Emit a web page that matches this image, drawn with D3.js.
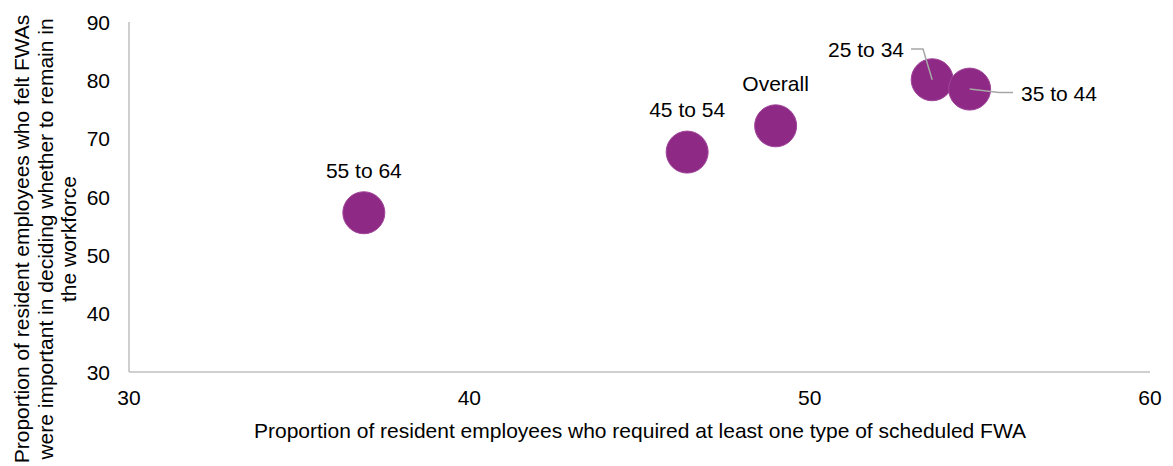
<!DOCTYPE html>
<html><head><meta charset="utf-8">
<script src="https://cdn.jsdelivr.net/npm/d3@7"></script>
<style>body{margin:0;background:#fff}svg{display:block}text{font-family:"Liberation Sans",Arial,sans-serif;fill:#000}</style>
</head><body><svg id="c" width="1173" height="466"></svg>
<script>
const labels = ["55 to 64","45 to 54","Overall","25 to 34","35 to 44"];
const xValues = [36.9, 46.4, 49.0, 53.6, 54.7];
const yValues = [57.3, 67.7, 72.2, 80.1, 78.5];
const xTicks = [30,40,50,60];
const yTicks = [30,40,50,60,70,80,90];
const xTitle = "Proportion of resident employees who required at least one type of scheduled FWA";
const yTitleLines = ["Proportion of resident employees who felt FWAs","were important in deciding whether to remain in","the workforce"];

const FS = 21;
const svg = d3.select("#c");
const x = d3.scaleLinear().domain([30,60]).range([129,1150]);
const y = d3.scaleLinear().domain([30,90]).range([372,22]);
const axisColor = "#bfbfbf";

svg.append("line").attr("x1",x(30)).attr("x2",x(60)).attr("y1",y(30)).attr("y2",y(30)).attr("stroke",axisColor).attr("stroke-width",1.5);
svg.append("line").attr("x1",x(30)).attr("x2",x(30)).attr("y1",y(30)).attr("y2",y(90)).attr("stroke",axisColor).attr("stroke-width",1.5);

svg.selectAll(".xt").data(xTicks).enter().append("text")
  .attr("x",d=>x(d)).attr("y",y(30)+32.5).attr("text-anchor","middle").attr("font-size",FS).text(d=>d);
svg.selectAll(".yt").data(yTicks).enter().append("text")
  .attr("x",110).attr("y",d=>y(d)+7.5).attr("text-anchor","end").attr("font-size",FS).text(d=>d);

svg.append("text").attr("x",640).attr("y",438).attr("text-anchor","middle").attr("font-size",FS).text(xTitle);
const yt = svg.append("g").attr("transform","translate(0,239) rotate(-90)");
yTitleLines.forEach((l,i)=>{
  yt.append("text").attr("x",0).attr("y",29+i*23.5).attr("text-anchor","middle").attr("font-size",FS).text(l);
});

const data = labels.map((l,i)=>({l, x:xValues[i], y:yValues[i]}));

const leaders = {
  "25 to 34": d=>[[911,49],[923,49],[x(d.x),y(d.y)]],
  "35 to 44": d=>[[x(d.x),y(d.y)],[999,92.5],[1013,92.5]]
};

svg.selectAll("circle").data(data).enter().append("circle")
  .attr("cx",d=>x(d.x)).attr("cy",d=>y(d.y)).attr("r",21)
  .attr("fill","#8E2A85").attr("stroke","#a0449a").attr("stroke-width",1);

data.forEach(d=>{
  if(leaders[d.l]){
    svg.append("path").attr("d",d3.line()(leaders[d.l](d))).attr("fill","none").attr("stroke","#a6a6a6").attr("stroke-width",1.5);
  }
});

data.forEach(d=>{
  const t = svg.append("text").attr("font-size",FS).text(d.l);
  if(d.l==="25 to 34"){ t.attr("x",904).attr("y",57).attr("text-anchor","end"); }
  else if(d.l==="35 to 44"){ t.attr("x",1021).attr("y",101).attr("text-anchor","start"); }
  else { t.attr("x",x(d.x)).attr("y",y(d.y)-35).attr("text-anchor","middle"); }
});
</script></body></html>
